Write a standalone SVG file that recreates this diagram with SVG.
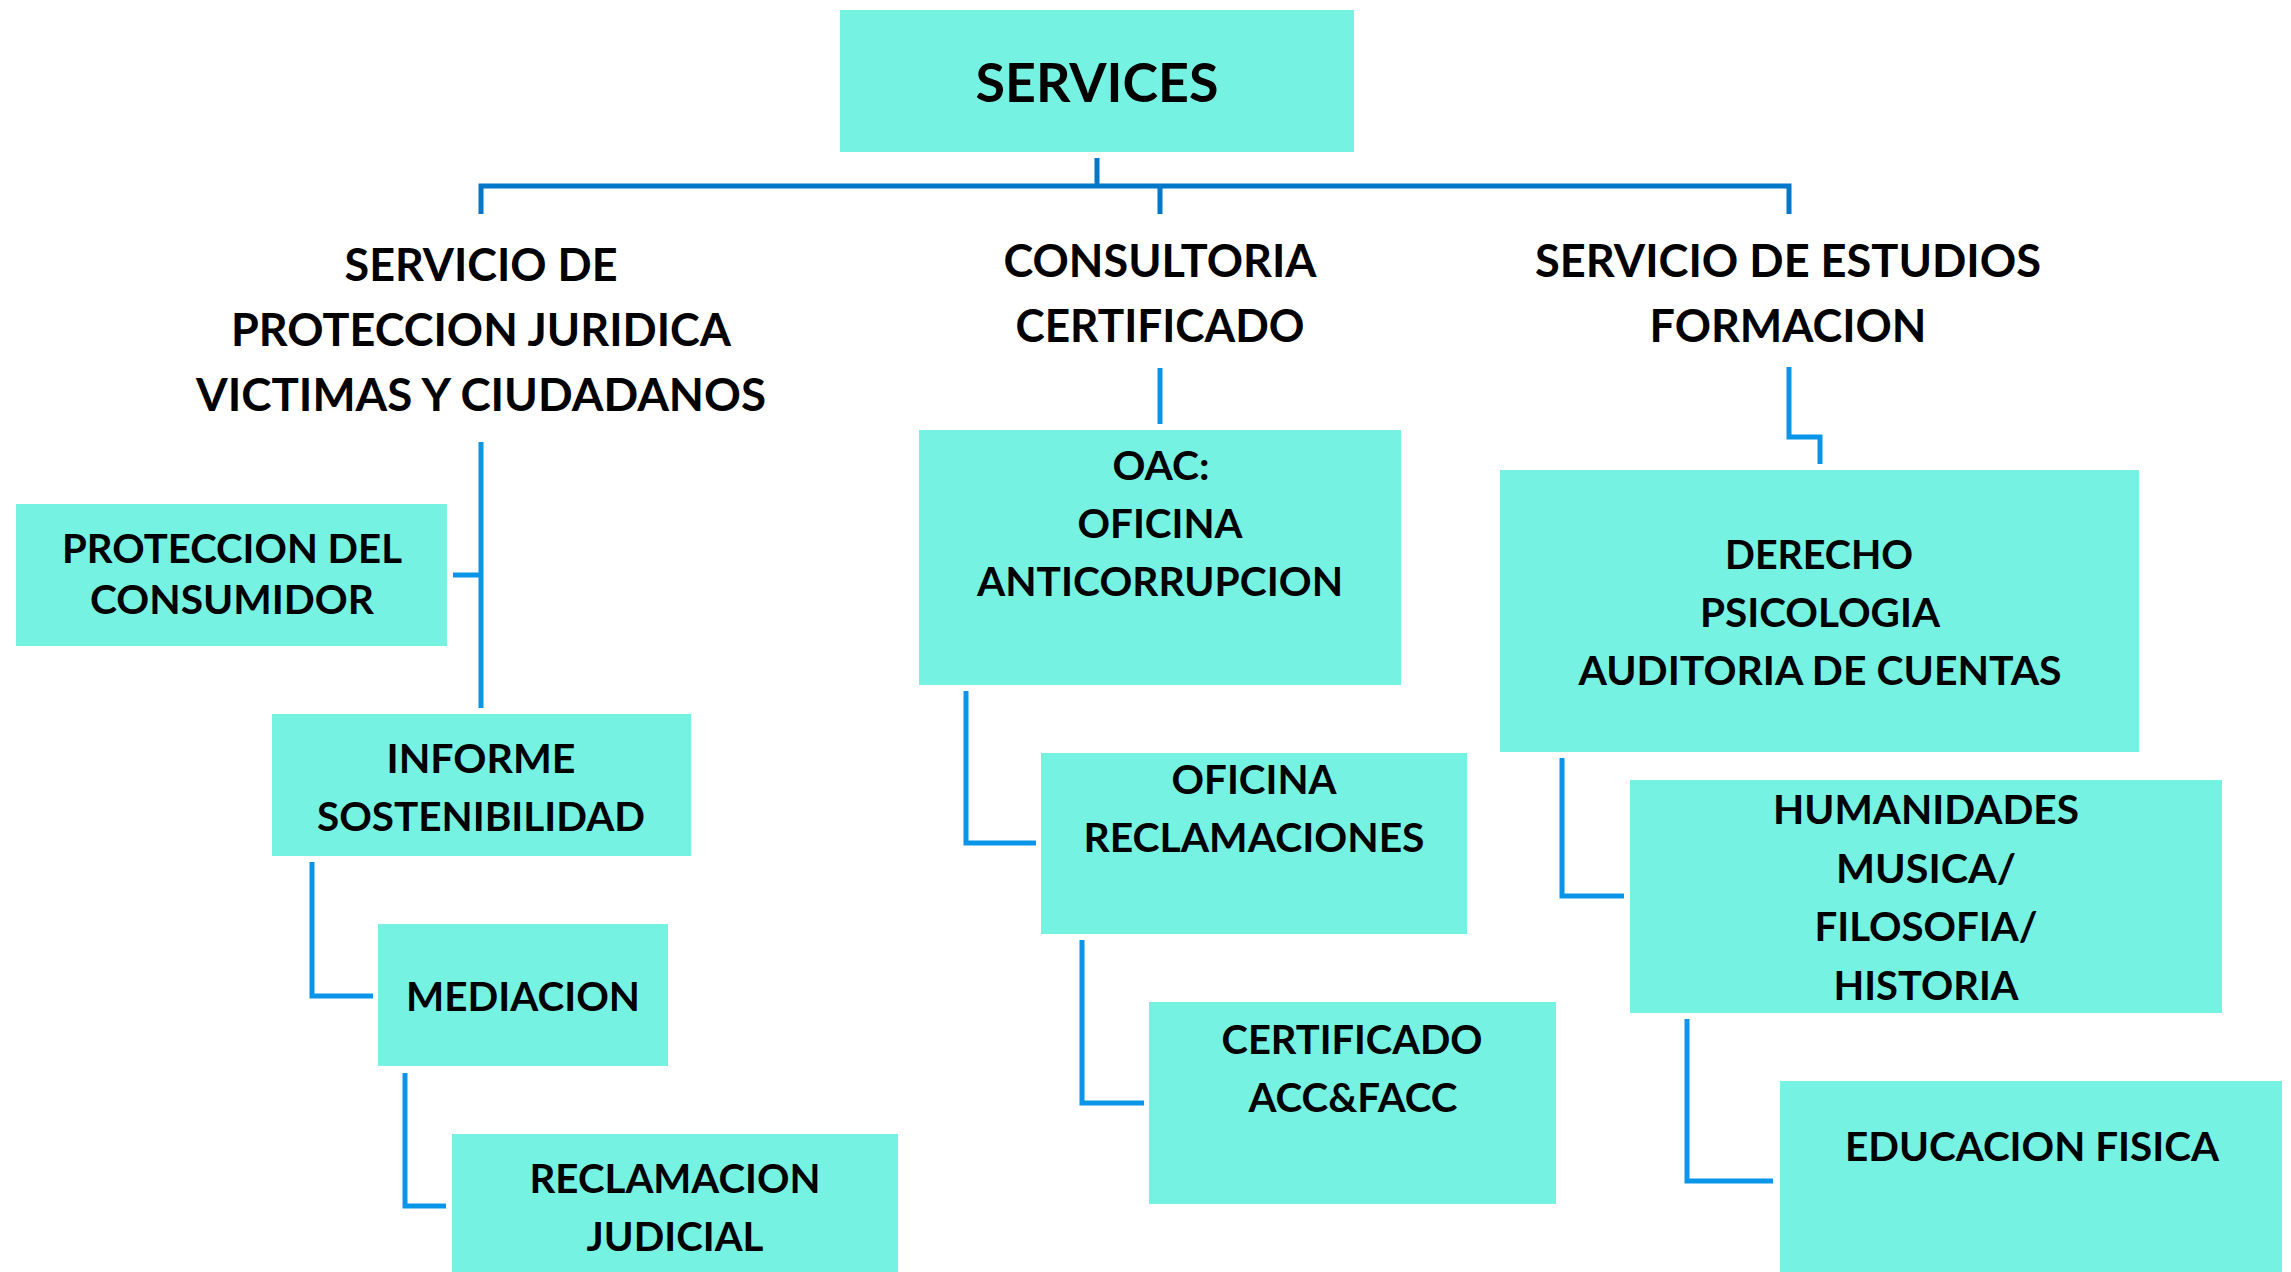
<svg xmlns="http://www.w3.org/2000/svg" width="2291" height="1272" viewBox="0 0 2291 1272">
<style>
.box{fill:#75F2E2;}
.t{font-family:Lato,"Open Sans","Liberation Sans",sans-serif;font-weight:bold;fill:#000;text-anchor:middle;}
.b{font-size:41px;}
.h{font-size:45px;}
.top{fill:none;stroke:#0077C8;stroke-width:5;stroke-linejoin:miter;}
.c{fill:none;stroke:#0B95E8;stroke-width:5;stroke-linejoin:miter;}
</style>
<rect width="2291" height="1272" fill="#fff"/>
<g id="connectors">
<path class="top" d="M1097,158 V186 M481,214 V186 H1789 V214 M1160,186 V214"/>
<path class="c" d="M481,442 V708 M453,575 H481"/>
<path class="c" d="M312,862 V996 H373"/>
<path class="c" d="M405,1073 V1206 H446"/>
<path class="c" d="M1160,368 V424"/>
<path class="c" d="M966,691 V843 H1036"/>
<path class="c" d="M1082,940 V1103 H1144"/>
<path class="c" d="M1789,367 V437 H1820 V464"/>
<path class="c" d="M1562,758 V896 H1624"/>
<path class="c" d="M1687,1019 V1181 H1773"/>
</g>
<g id="services">
<rect class="box" x="840" y="10" width="514" height="142"/>
<text class="t" x="1097" y="102" font-size="54" textLength="243" lengthAdjust="spacingAndGlyphs">SERVICES</text>
</g>
<g id="servicio-proteccion">
<text class="t h" x="481" y="281" textLength="273" lengthAdjust="spacingAndGlyphs">SERVICIO DE</text>
<text class="t h" x="481" y="346" textLength="500" lengthAdjust="spacingAndGlyphs">PROTECCION JURIDICA</text>
<text class="t h" x="481" y="411" textLength="570" lengthAdjust="spacingAndGlyphs">VICTIMAS Y CIUDADANOS</text>
</g>
<g id="consultoria">
<text class="t h" x="1160" y="277" textLength="313" lengthAdjust="spacingAndGlyphs">CONSULTORIA</text>
<text class="t h" x="1160" y="342" textLength="289" lengthAdjust="spacingAndGlyphs">CERTIFICADO</text>
</g>
<g id="servicio-estudios">
<text class="t h" x="1788" y="277" textLength="506" lengthAdjust="spacingAndGlyphs">SERVICIO DE ESTUDIOS</text>
<text class="t h" x="1788" y="342" textLength="277" lengthAdjust="spacingAndGlyphs">FORMACION</text>
</g>
<g id="proteccion-consumidor">
<rect class="box" x="16" y="504" width="431" height="142"/>
<text class="t b" x="232" y="563" textLength="340" lengthAdjust="spacingAndGlyphs">PROTECCION DEL</text>
<text class="t b" x="232" y="614" textLength="284" lengthAdjust="spacingAndGlyphs">CONSUMIDOR</text>
</g>
<g id="informe">
<rect class="box" x="272" y="714" width="419" height="142"/>
<text class="t b" x="481" y="773" textLength="189" lengthAdjust="spacingAndGlyphs">INFORME</text>
<text class="t b" x="481" y="831" textLength="328" lengthAdjust="spacingAndGlyphs">SOSTENIBILIDAD</text>
</g>
<g id="mediacion">
<rect class="box" x="378" y="924" width="290" height="142"/>
<text class="t b" x="523" y="1011" textLength="234" lengthAdjust="spacingAndGlyphs">MEDIACION</text>
</g>
<g id="reclamacion-judicial">
<rect class="box" x="452" y="1134" width="446" height="138"/>
<text class="t b" x="675" y="1193" textLength="291" lengthAdjust="spacingAndGlyphs">RECLAMACION</text>
<text class="t b" x="675" y="1251" textLength="177" lengthAdjust="spacingAndGlyphs">JUDICIAL</text>
</g>
<g id="oac">
<rect class="box" x="919" y="430" width="482" height="255"/>
<text class="t b" x="1161" y="480" textLength="97" lengthAdjust="spacingAndGlyphs">OAC:</text>
<text class="t b" x="1160" y="538" textLength="165" lengthAdjust="spacingAndGlyphs">OFICINA</text>
<text class="t b" x="1160" y="596" textLength="366" lengthAdjust="spacingAndGlyphs">ANTICORRUPCION</text>
</g>
<g id="oficina-reclamaciones">
<rect class="box" x="1041" y="753" width="426" height="181"/>
<text class="t b" x="1254" y="794" textLength="165" lengthAdjust="spacingAndGlyphs">OFICINA</text>
<text class="t b" x="1254" y="852" textLength="341" lengthAdjust="spacingAndGlyphs">RECLAMACIONES</text>
</g>
<g id="certificado">
<rect class="box" x="1149" y="1002" width="407" height="202"/>
<text class="t b" x="1352" y="1054" textLength="261" lengthAdjust="spacingAndGlyphs">CERTIFICADO</text>
<text class="t b" x="1353" y="1112" textLength="209" lengthAdjust="spacingAndGlyphs">ACC&amp;FACC</text>
</g>
<g id="derecho">
<rect class="box" x="1500" y="470" width="639" height="282"/>
<text class="t b" x="1819" y="569" textLength="188" lengthAdjust="spacingAndGlyphs">DERECHO</text>
<text class="t b" x="1820" y="627" textLength="240" lengthAdjust="spacingAndGlyphs">PSICOLOGIA</text>
<text class="t b" x="1820" y="685" textLength="483" lengthAdjust="spacingAndGlyphs">AUDITORIA DE CUENTAS</text>
</g>
<g id="humanidades">
<rect class="box" x="1630" y="780" width="592" height="233"/>
<text class="t b" x="1926" y="824" textLength="306" lengthAdjust="spacingAndGlyphs">HUMANIDADES</text>
<text class="t b" x="1926" y="883" textLength="180" lengthAdjust="spacingAndGlyphs">MUSICA/</text>
<text class="t b" x="1926" y="941" textLength="223" lengthAdjust="spacingAndGlyphs">FILOSOFIA/</text>
<text class="t b" x="1926" y="1000" textLength="185" lengthAdjust="spacingAndGlyphs">HISTORIA</text>
</g>
<g id="educacion-fisica">
<rect class="box" x="1780" y="1081" width="502" height="191"/>
<text class="t b" x="2032" y="1161" textLength="374" lengthAdjust="spacingAndGlyphs">EDUCACION FISICA</text>
</g>
</svg>
